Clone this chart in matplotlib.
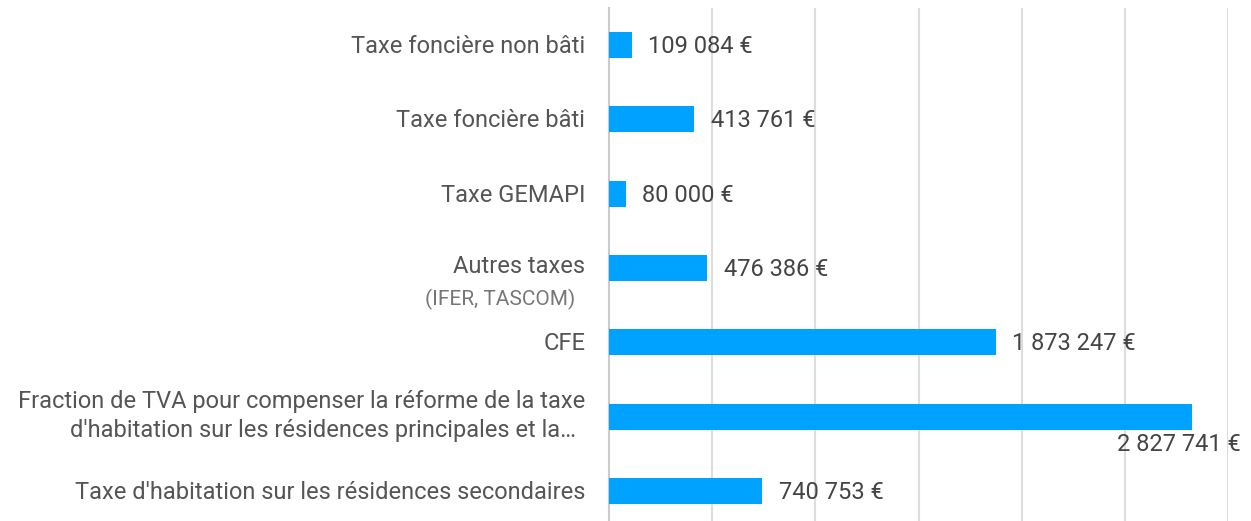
import matplotlib
matplotlib.use('Agg')
import matplotlib.pyplot as plt
from matplotlib import transforms

plt.rcParams['font.family'] = ['Roboto', 'DejaVu Sans']

categories = [
    "Taxe foncière non bâti",
    "Taxe foncière bâti",
    "Taxe GEMAPI",
    "Autres taxes",
    "CFE",
    "Fraction de TVA pour compenser la réforme de la taxe",
    "Taxe d'habitation sur les résidences secondaires",
]
values = [109084, 413761, 80000, 476386, 1873247, 2827741, 740753]
value_labels = ["109 084 €", "413 761 €", "80 000 €", "476 386 €",
                "1 873 247 €", "2 827 741 €", "740 753 €"]
ticks = [0, 500000, 1000000, 1500000, 2000000, 2500000, 3000000]

bar_color = '#00A2FF'
text_color = '#444444'
label_color = '#555555'

fig = plt.figure(figsize=(12.51, 5.21), dpi=100)
ax = fig.add_axes([609 / 1251, -7 / 521, (1228 - 609) / 1251, 520 / 521])

idx = list(range(len(values)))
ax.barh(idx, values, height=0.35, color=bar_color, zorder=3)
ax.set_xlim(0, 3000000)
ax.set_ylim(len(values) - 0.5, -0.5)
ax.set_xticks(ticks)
ax.set_yticks([])
ax.tick_params(axis='x', length=0, labelbottom=False)
ax.grid(axis='x', color='#dddddd', linewidth=1.5, zorder=0)
for s in ['top', 'right', 'bottom']:
    ax.spines[s].set_visible(False)
ax.spines['left'].set_color('#cccccc')
ax.spines['left'].set_linewidth(1.5)

# value labels
for i, (v, lab) in enumerate(zip(values, value_labels)):
    if i == 5:
        ax.annotate(lab, (v, i), xytext=(35, -20), textcoords='offset points',
                    ha='right', va='center', fontsize=17, color=text_color,
                    annotation_clip=False)
    else:
        ax.annotate(lab, (v, i), xytext=(12, -1), textcoords='offset points',
                    ha='left', va='center', fontsize=17, color=text_color,
                    annotation_clip=False)

# category labels
trans = transforms.blended_transform_factory(ax.transAxes, ax.transData)
for i, cat in enumerate(categories):
    if i == 3:
        ax.annotate(cat, (0, i), xycoords=trans, xytext=(-17, 1), textcoords='offset points',
                    ha='right', va='center', fontsize=17, color=label_color)
        ax.annotate("(IFER, TASCOM)", (0, i), xycoords=trans, xytext=(-24, -23),
                    textcoords='offset points', ha='right', va='center',
                    fontsize=15, color='#777777')
    elif i == 5:
        ax.annotate(cat, (0, i), xycoords=trans, xytext=(-17, 11), textcoords='offset points',
                    ha='right', va='center', fontsize=17, color=label_color)
        ax.annotate("d'habitation sur les résidences principales et la…", (0, i),
                    xycoords=trans, xytext=(-24, -10), textcoords='offset points',
                    ha='right', va='center', fontsize=17, color=label_color)
    else:
        ax.annotate(cat, (0, i), xycoords=trans, xytext=(-17, -1), textcoords='offset points',
                    ha='right', va='center', fontsize=17, color=label_color)

fig.savefig('out.png', dpi=100)
